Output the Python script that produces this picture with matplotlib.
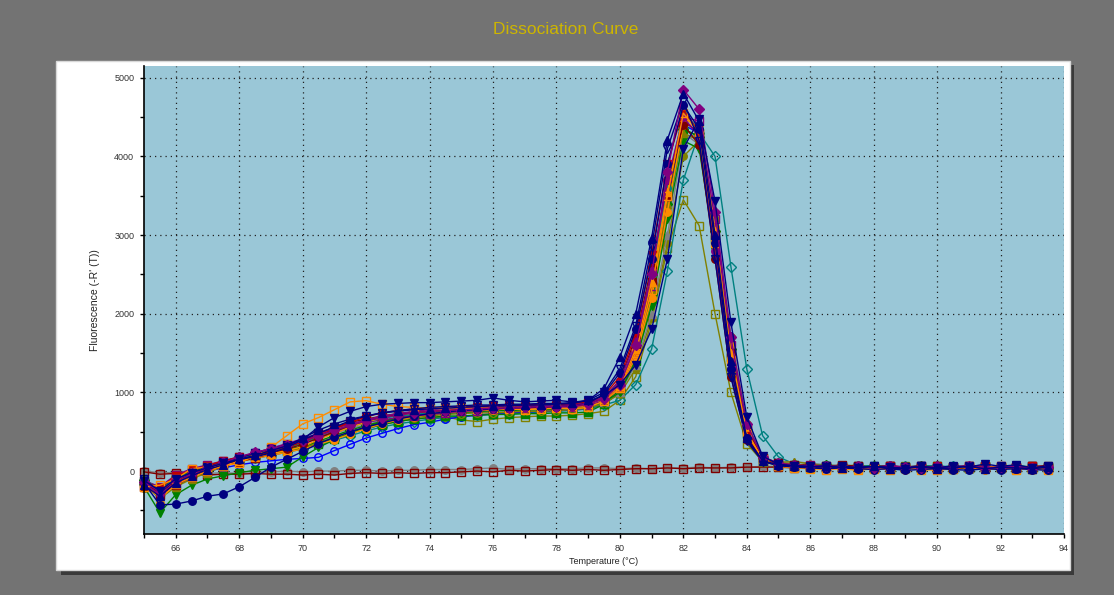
import numpy as np
import matplotlib
matplotlib.use("Agg")
import matplotlib.pyplot as plt
from matplotlib.patches import Rectangle
from matplotlib.ticker import MultipleLocator

plt.rcParams['font.family'] = ['Liberation Sans', 'DejaVu Sans']

# ---------------- data ----------------
TEMPS = np.arange(65.0, 93.75, 0.5)  # instrument temperature grid (58 readings)

navy_up = [-180, -320, -150, -60, 20, 80, 150, 200, 260, 320,
           420, 520, 600, 660, 700, 740, 760, 780, 790, 800,
           810, 820, 830, 830, 840, 840, 850, 860, 900, 1050,
           1450, 2000, 2960, 4215, 4800, 4450, 3000, 1400, 420, 130,
           80, 60, 50, 70, 40, 50, 60, 30, 40, 50, 30, 40, 60, 30, 50, 40, 30, 50]
navy_down = [-120, -250, -100, -20, 40, 100, 150, 180, 230, 300,
             400, 560, 680, 760, 820, 850, 860, 870, 870, 880,
             890, 900, 930, 900, 880, 890, 900, 880, 890, 960,
             1100, 1350, 1800, 2700, 4100, 4470, 3430, 1890, 690, 190,
             85, 70, 60, 50, 70, 40, 60, 50, 30, 60, 40, 70, 50, 90, 60, 80, 40, 70]
maroon_circ = [-150, -280, -120, -40, 30, 90, 140, 190, 240, 280,
               340, 420, 500, 580, 640, 680, 720, 740, 760, 770,
               780, 790, 800, 800, 810, 810, 820, 830, 850, 930,
               1150, 1700, 2600, 3700, 4400, 4150, 2700, 1200, 400, 140,
               90, 70, 50, 60, 40, 50, 40, 60, 30, 50, 40, 30, 50, 40, 60, 30, 40, 50]
maroon_sq = [-200, -300, -180, -80, 10, 60, 120, 170, 220, 300,
             380, 480, 560, 620, 660, 700, 730, 750, 760, 780,
             790, 800, 800, 810, 820, 820, 830, 840, 860, 920,
             1080, 1550, 2400, 3500, 4450, 4300, 3000, 1500, 520, 160,
             100, 80, 70, 60, 80, 60, 50, 70, 50, 60, 40, 50, 70, 60, 50, 40, 60, 70]
olive_up = [-170, -350, -200, -100, -20, 60, 120, 170, 230, 290,
            360, 440, 520, 590, 640, 690, 720, 740, 750, 760,
            770, 770, 780, 790, 790, 800, 800, 810, 830, 900,
            1050, 1500, 2300, 3400, 4300, 4200, 2900, 1450, 480, 150,
            110, 120, 90, 70, 60, 80, 50, 60, 40, 70, 50, 60, 40, 50, 60, 40, 50, 40]
olive_sq = [-150, -250, -80, -10, 50, 100, 150, 190, 220, 260,
            300, 360, 420, 480, 540, 590, 630, 660, 680, 690,
            650, 630, 660, 680, 690, 700, 700, 710, 730, 760,
            900, 1200, 1900, 2830, 3450, 3120, 2000, 1000, 350, 120,
            70, 50, 40, 60, 50, 40, 50, 30, 60, 40, 50, 30, 40, 60, 40, 50, 30, 40]
green_sq = [-130, -260, -100, -30, 30, 90, 150, 190, 220, 250,
            290, 350, 410, 480, 540, 590, 630, 660, 680, 700,
            700, 710, 720, 720, 730, 730, 740, 740, 750, 850,
            1000, 1400, 2200, 3300, 4350, 4250, 2950, 1450, 470, 140,
            90, 80, 70, 50, 60, 70, 40, 60, 50, 40, 60, 50, 40, 60, 50, 40, 60, 50]
green_down = [-200, -530, -300, -180, -100, -60, -20, 10, 30, 50,
              180, 300, 400, 480, 560, 630, 680, 710, 730, 740,
              750, 760, 770, 770, 780, 780, 790, 800, 820, 880,
              1000, 1400, 2100, 3200, 4200, 4100, 2800, 1400, 460, 140,
              80, 60, 50, 40, 60, 50, 40, 30, 50, 40, 60, 30, 40, 50, 30, 40, 50, 30]
teal_dia = [-160, -280, -120, -40, 20, 70, 120, 160, 200, 240,
            280, 330, 390, 450, 510, 560, 600, 630, 660, 680,
            700, 710, 720, 730, 740, 750, 760, 770, 790, 840,
            900, 1100, 1550, 2550, 3700, 4300, 4000, 2600, 1300, 450,
            180, 90, 70, 60, 50, 60, 40, 50, 60, 40, 50, 60, 40, 30, 50, 40, 50, 40]
teal_circ = [-100, -240, -90, -20, 40, 100, 160, 210, 260, 300,
             360, 430, 500, 560, 620, 670, 700, 720, 740, 760,
             780, 800, 830, 820, 810, 820, 830, 830, 850, 920,
             1100, 1600, 2500, 3600, 4550, 4350, 3000, 1500, 500, 150,
             90, 70, 60, 80, 50, 60, 70, 50, 40, 60, 70, 50, 60, 40, 50, 60, 40, 50]
purple_dia = [-140, -260, -110, -30, 40, 110, 180, 240, 280, 330,
              380, 450, 520, 580, 640, 680, 710, 740, 760, 770,
              780, 790, 800, 800, 810, 820, 820, 830, 850, 920,
              1100, 1600, 2500, 3800, 4850, 4600, 3300, 1700, 600, 180,
              100, 80, 60, 70, 50, 60, 40, 70, 50, 40, 60, 50, 70, 40, 50, 60, 40, 50]
purple_sq = [-120, -200, -50, 30, 80, 130, 180, 230, 290, 340,
             390, 460, 520, 570, 620, 650, 680, 700, 720, 740,
             760, 770, 790, 800, 800, 810, 810, 820, 840, 890,
             1050, 1500, 2350, 3500, 4500, 4450, 3200, 1600, 550, 170,
             100, 70, 80, 60, 50, 70, 40, 60, 50, 70, 40, 50, 60, 40, 70, 50, 60, 40]
orange_sq = [-200, -180, -100, 30, 50, 70, 100, 200, 300, 450,
             600, 680, 780, 880, 895, 850, 820, 810, 800, 810,
             800, 790, 800, 790, 780, 790, 800, 790, 810, 890,
             1050, 1500, 2300, 3500, 4550, 4300, 2900, 1400, 480, 150,
             60, 40, 30, 20, 30, 10, 30, 20, 40, 20, 10, 30, 60, 40, 70, 20, 30, 10]
orange_circ = [-180, -330, -160, -70, 0, 60, 120, 160, 200, 240,
               280, 340, 400, 470, 540, 600, 650, 690, 720, 740,
               760, 770, 780, 790, 790, 800, 800, 810, 830, 900,
               1050, 1450, 2200, 3300, 4400, 4400, 3100, 1600, 560, 170,
               100, 80, 60, 50, 30, 20, 40, 30, 20, 40, 30, 50, 40, 20, 30, 40, 20, 30]
gray_up = [-160, -300, -140, -50, 20, 80, 140, 190, 250, 300,
           350, 420, 480, 540, 590, 640, 680, 710, 730, 750,
           760, 770, 780, 790, 790, 800, 810, 810, 830, 880,
           1000, 1350, 2000, 3000, 4200, 4300, 3150, 1650, 570, 170,
           110, 120, 100, 80, 60, 70, 60, 50, 60, 40, 50, 60, 50, 40, 60, 50, 40, 50]
gray_circ = [-190, -310, -140, -60, 10, 70, 130, 170, 200, 240,
             290, 350, 410, 480, 540, 590, 640, 680, 710, 730,
             740, 750, 760, 770, 770, 780, 790, 800, 810, 870,
             1000, 1400, 2150, 3250, 4300, 4150, 2850, 1400, 470, 140,
             90, 70, 60, 50, 60, 50, 70, 40, 60, 50, 40, 60, 50, 40, 60, 50, 40, 60]
blue_open = [-150, -260, -150, -60, 0, 40, 80, 110, 130, 150,
             160, 175, 260, 340, 420, 480, 540, 590, 620, 660,
             690, 710, 730, 740, 750, 760, 770, 780, 800, 860,
             1000, 1450, 2250, 3400, 4400, 4300, 3000, 1500, 500, 150,
             80, 60, 50, 40, 50, 40, 30, 50, 40, 30, 50, 40, 30, 50, 40, 30, 40, 30]
navy_circ = [-150, -430, -420, -380, -320, -290, -200, -80, 50, 150,
             250, 350, 430, 500, 560, 610, 660, 700, 730, 750,
             770, 780, 790, 800, 810, 820, 820, 830, 860, 980,
             1250, 1800, 2700, 3900, 4650, 4350, 2900, 1300, 420, 130,
             70, 50, 40, 30, 40, 30, 20, 30, 10, 20, 30, 20, 10, 30, 20, 30, 20, 10]
red_down = [-130, -220, -60, 10, 70, 130, 180, 220, 260, 310,
            370, 450, 540, 620, 690, 740, 770, 790, 800, 810,
            820, 820, 830, 840, 840, 850, 850, 860, 880, 960,
            1200, 1750, 2750, 3900, 4600, 4300, 2850, 1350, 440, 140,
            80, 60, 70, 50, 60, 40, 50, 60, 40, 50, 60, 40, 50, 60, 40, 50, 60, 40]
olive_circ = [-220, -290, -130, -50, 30, 100, 160, 200, 230, 260,
              300, 360, 430, 500, 560, 610, 650, 680, 700, 720,
              730, 740, 740, 750, 760, 760, 770, 780, 800, 860,
              980, 1300, 1950, 2900, 4000, 4200, 3200, 1700, 600, 180,
              100, 80, 60, 70, 50, 60, 50, 40, 60, 50, 40, 50, 60, 40, 50, 40, 50, 40]
green_dia = [-110, -230, -80, 0, 60, 120, 180, 220, 250, 280,
             310, 380, 450, 520, 580, 630, 670, 700, 720, 740,
             750, 760, 770, 780, 780, 790, 790, 800, 820, 880,
             1030, 1450, 2250, 3400, 4350, 4250, 3050, 1550, 520, 160,
             90, 70, 60, 80, 60, 50, 70, 60, 50, 70, 60, 50, 40, 60, 50, 70, 50, 40]
purple_circ = [-170, -290, -150, -40, 50, 110, 170, 230, 290, 350,
               410, 480, 540, 600, 650, 700, 730, 760, 780, 800,
               810, 820, 820, 830, 830, 840, 840, 850, 870, 940,
               1150, 1650, 2550, 3700, 4500, 4250, 2800, 1300, 430, 130,
               80, 70, 50, 60, 40, 60, 50, 70, 40, 60, 50, 40, 60, 50, 40, 60, 50, 60]
orange_up = [-140, -350, -170, -80, 0, 70, 130, 180, 220, 260,
             310, 400, 480, 560, 620, 680, 720, 740, 760, 780,
             790, 800, 800, 810, 810, 820, 820, 830, 850, 920,
             1080, 1550, 2400, 3550, 4500, 4350, 3050, 1500, 500, 150,
             90, 80, 60, 50, 70, 40, 50, 60, 50, 40, 60, 50, 40, 60, 50, 60, 40, 50]
navy_open = [-100, -270, -110, -20, 50, 110, 170, 230, 280, 330,
             400, 480, 560, 640, 700, 740, 770, 790, 810, 820,
             830, 840, 840, 850, 850, 860, 860, 870, 900, 1000,
             1300, 1850, 2850, 4100, 4700, 4200, 2700, 1200, 380, 120,
             70, 60, 50, 60, 40, 50, 60, 40, 50, 60, 40, 50, 60, 40, 50, 60, 40, 50]
ntc_sq = [-10, -40, -30, -40, -50, -40, -40, -30, -40, -40,
          -50, -40, -50, -30, -20, -30, -20, -30, -20, -20,
          -10, 0, -10, 10, 0, 10, 20, 10, 20, 10,
          20, 30, 30, 40, 30, 40, 40, 40, 50, 50,
          50, 40, 50, 40, 50, 50, 40, 50, 40, 50, 40, 50, 40, 50, 40, 50, 40, 50]
ntc_circ = [0, -20, -20, -30, -30, -20, -30, -20, -10, 0,
            -10, 0, 0, 10, 10, 0, 10, 10, 20, 20,
            20, 30, 40, 20, 30, 30, 30, 30, 40, 40,
            30, 40, 30, 40, 40, 50, 40, 50, 50, 60,
            60, 50, 60, 50, 60, 50, 60, 50, 40, 50, 40, 50, 40, 50, 40, 50, 40, 50]

X_TICKS = [66, 68, 70, 72, 74, 76, 78, 80, 82, 84, 86, 88, 90, 92, 94]
Y_TICKS = [0, 1000, 2000, 3000, 4000, 5000]

# ---------------- styles ----------------
NAVY, MAROON, OLIVE, GREEN = '#000080', '#800000', '#808000', '#008000'
TEAL, PURPLE, ORANGE, GRAY = '#008080', '#800080', '#ff8c00', '#808080'
BLUE, RED = '#0000ff', '#c00000'

series = [
    (ntc_circ, GRAY, 'o', True),
    (ntc_sq, MAROON, 's', False),
    (olive_sq, OLIVE, 's', False),
    (teal_dia, TEAL, 'D', False),
    (blue_open, BLUE, 'o', False),
    (gray_circ, GRAY, 'o', True),
    (green_sq, GREEN, 's', True),
    (olive_circ, OLIVE, 'o', True),
    (gray_up, GRAY, '^', True),
    (green_down, GREEN, 'v', True),
    (green_dia, GREEN, 'D', True),
    (olive_up, OLIVE, '^', True),
    (orange_circ, ORANGE, 'o', True),
    (purple_sq, PURPLE, 's', False),
    (teal_circ, TEAL, 'o', True),
    (maroon_sq, MAROON, 's', True),
    (orange_up, ORANGE, '^', True),
    (maroon_circ, MAROON, 'o', True),
    (purple_circ, PURPLE, 'o', True),
    (red_down, RED, 'v', True),
    (orange_sq, ORANGE, 's', False),
    (navy_circ, NAVY, 'o', True),
    (navy_open, NAVY, 'v', False),
    (purple_dia, PURPLE, 'D', True),
    (navy_up, NAVY, '^', True),
    (navy_down, NAVY, 'v', True),
]

# ---------------- figure ----------------
W, H = 1114, 595
fig = plt.figure(figsize=(W / 100, H / 100), dpi=100, facecolor='#737373')

def fx(px):
    return px / W

def fy(py):
    return 1 - py / H

# shadow + white panel
fig.patches.append(Rectangle((fx(61), fy(575)), fx(1074) - fx(61), fy(65) - fy(575),
                             transform=fig.transFigure, facecolor='#3a3a3a',
                             edgecolor='none', zorder=0))
fig.patches.append(Rectangle((fx(56), fy(570)), fx(1070) - fx(56), fy(61) - fy(570),
                             transform=fig.transFigure, facecolor='white',
                             edgecolor='#d8d8d8', linewidth=1, zorder=1))

fig.text(fx(566), fy(29), 'Dissociation Curve', color='#cdb500', fontsize=12.5,
         ha='center', va='center')

ax = fig.add_axes([fx(144), fy(534), fx(1064) - fx(144), fy(66) - fy(534)])
ax.set_facecolor('#9ac7d7')
ax.set_zorder(2)

for vals, col, mk, filled in series:
    ax.plot(TEMPS, vals, color=col, lw=1.0, marker=mk,
            markersize=5.4 if mk != 'D' else 4.7,
            markerfacecolor=col if filled else 'none',
            markeredgecolor=col, markeredgewidth=1.0, clip_on=False)

ax.set_xlim(65, 94)
ax.set_ylim(-800, 5150)
ax.set_xticks(X_TICKS)
ax.set_yticks(Y_TICKS)
ax.xaxis.set_minor_locator(MultipleLocator(1))
ax.yaxis.set_minor_locator(MultipleLocator(500))
ax.grid(True, which='major', color='#222222', linestyle=(0, (1, 3.2)), linewidth=0.9)
ax.set_axisbelow(True)

for s in ('top', 'right'):
    ax.spines[s].set_visible(False)
for s in ('left', 'bottom'):
    ax.spines[s].set_color('black')
    ax.spines[s].set_linewidth(1.2)

ax.tick_params(which='both', direction='out', length=3, width=1, colors='black',
               labelsize=6.5, labelcolor='#333333', pad=4)
ax.set_xlabel('Temperature (°C)', fontsize=6.5, color='#222222', labelpad=3)
ax.set_ylabel("Fluorescence (-R' (T))", fontsize=7.5, color='#222222', labelpad=10)

fig.savefig('out.png', dpi=100, facecolor=fig.get_facecolor())
